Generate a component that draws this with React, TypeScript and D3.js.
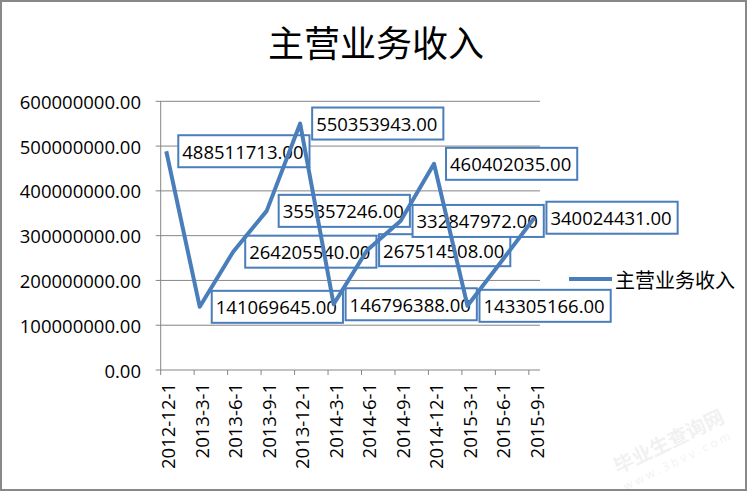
import { useEffect, useRef } from 'react';
import * as d3 from 'd3';

const title = '主营业务收入';
const seriesName = '主营业务收入';
const dates = [
  '2012-12-1', '2013-3-1', '2013-6-1', '2013-9-1', '2013-12-1', '2014-3-1',
  '2014-6-1', '2014-9-1', '2014-12-1', '2015-3-1', '2015-6-1', '2015-9-1',
];
const values = [
  488511713, 141069645, 264205540, 355357246, 550353943, 146796388,
  267514508, 332847972, 460402035, 143305166, 241000000, 340024431,
];
// the 2015-6-1 point has no data label in the original
const showLabel = [true, true, true, true, true, true, true, true, true, true, false, true];
const yTicks = [0, 100000000, 200000000, 300000000, 400000000, 500000000, 600000000];

const width = 749;
const height = 493;
const blue = '#4A7EBB';
const grid = '#868686';
const latin = '"Open Sans", "DejaVu Sans", sans-serif';
const cjk = '"Noto Sans CJK SC", sans-serif';

// month index counted from the first category (date axis, base unit = month)
function monthIndex(s: string): number {
  const [y, m] = s.split('-').map(Number);
  const [y0, m0] = dates[0].split('-').map(Number);
  return (y - y0) * 12 + (m - m0);
}

export default function App() {
  const svgRef = useRef<SVGSVGElement>(null);

  useEffect(() => {
    if (!svgRef.current) return;
    document.body.style.margin = '0';
    const svg = d3.select(svgRef.current);
    svg.selectAll('*').remove();

    const plot = { left: 160.7, right: 540, top: 101.3, bottom: 370 };
    const lastMonth = monthIndex(dates[dates.length - 1]);

    const x = d3.scaleLinear()
      .domain([0, lastMonth + 1])
      .range([plot.left, plot.right]);
    const y = d3.scaleLinear()
      .domain([0, 600000000])
      .range([plot.bottom, plot.top]);

    svg.append('rect')
      .attr('width', width)
      .attr('height', height)
      .attr('fill', '#fff');

    svg.append('rect')
      .attr('x', 1)
      .attr('y', 1)
      .attr('width', 745)
      .attr('height', 489)
      .attr('fill', 'none')
      .attr('stroke', '#888')
      .attr('stroke-width', 2);

    // Title
    svg.append('text')
      .attr('x', 376)
      .attr('y', 41)
      .attr('text-anchor', 'middle')
      .attr('dominant-baseline', 'central')
      .attr('font-family', cjk)
      .attr('font-size', '36px')
      .attr('fill', '#000')
      .text(title);

    // Gridlines + y ticks
    yTicks.forEach(t => {
      svg.append('line')
        .attr('x1', plot.left - 5)
        .attr('x2', plot.right)
        .attr('y1', y(t))
        .attr('y2', y(t))
        .attr('stroke', grid)
        .attr('stroke-width', 1);

      svg.append('text')
        .attr('x', 141)
        .attr('y', y(t))
        .attr('text-anchor', 'end')
        .attr('dominant-baseline', 'central')
        .attr('font-family', latin)
        .attr('font-size', '18.5px')
        .attr('fill', '#000')
        .text(d3.format('.2f')(t));
    });

    // y axis line
    svg.append('line')
      .attr('x1', plot.left)
      .attr('x2', plot.left)
      .attr('y1', plot.top)
      .attr('y2', plot.bottom)
      .attr('stroke', grid)
      .attr('stroke-width', 1);

    // x ticks and labels
    dates.forEach(d => {
      const m = monthIndex(d);
      svg.append('line')
        .attr('x1', x(m))
        .attr('x2', x(m))
        .attr('y1', plot.bottom)
        .attr('y2', plot.bottom + 5)
        .attr('stroke', grid)
        .attr('stroke-width', 1);

      const cx = x(m + 0.5) + 1.7;
      svg.append('text')
        .attr('transform', `translate(${cx},383) rotate(-90)`)
        .attr('text-anchor', 'end')
        .attr('dominant-baseline', 'central')
        .attr('font-family', latin)
        .attr('font-size', '18.5px')
        .attr('fill', '#000')
        .text(d);
    });

    const pts = dates.map((d, i) => ({
      x: x(monthIndex(d) + 0.5),
      y: y(values[i]),
      v: values[i],
      label: showLabel[i],
    }));

    // Data labels (boxes to the right of each point), under the line
    pts.filter(p => p.label).forEach(p => {
      const g = svg.append('g');
      const rect = g.append('rect')
        .attr('fill', '#fff')
        .attr('stroke', blue)
        .attr('stroke-width', 2);
      const txt = g.append('text')
        .attr('x', p.x + 16)
        .attr('y', p.y)
        .attr('dominant-baseline', 'central')
        .attr('font-family', latin)
        .attr('font-size', '18.5px')
        .attr('fill', '#000')
        .text(d3.format('.2f')(p.v));
      const w = (txt.node() as SVGTextElement).getComputedTextLength();
      rect
        .attr('x', p.x + 12)
        .attr('y', p.y - 16)
        .attr('width', w + 10)
        .attr('height', 32);
    });

    const line = d3.line<typeof pts[0]>()
      .x(p => p.x)
      .y(p => p.y);

    svg.append('path')
      .datum(pts)
      .attr('d', line)
      .attr('fill', 'none')
      .attr('stroke', blue)
      .attr('stroke-width', 4)
      .attr('stroke-linejoin', 'round');

    // Legend
    svg.append('line')
      .attr('x1', 569)
      .attr('x2', 612)
      .attr('y1', 279)
      .attr('y2', 279)
      .attr('stroke', blue)
      .attr('stroke-width', 4);

    svg.append('text')
      .attr('x', 615)
      .attr('y', 279)
      .attr('dominant-baseline', 'central')
      .attr('font-family', cjk)
      .attr('font-size', '20px')
      .attr('fill', '#000')
      .text(seriesName);

    // faint watermark
    const wm = svg.append('g')
      .attr('transform', 'translate(672,448) rotate(-26)')
      .attr('fill', '#000')
      .attr('opacity', 0.05)
      .attr('text-anchor', 'middle');
    wm.append('text')
      .attr('font-family', cjk)
      .attr('font-size', '20px')
      .attr('font-weight', 'bold')
      .text('毕业生查询网');
    wm.append('text')
      .attr('y', 18)
      .attr('font-family', latin)
      .attr('font-size', '12px')
      .attr('letter-spacing', '3px')
      .text('www.3bvv.com');
  }, []);

  return (
    <svg
      ref={svgRef}
      width={width}
      height={height}
      style={{ display: 'block', position: 'absolute', left: 0, top: 0 }}
    />
  );
}
